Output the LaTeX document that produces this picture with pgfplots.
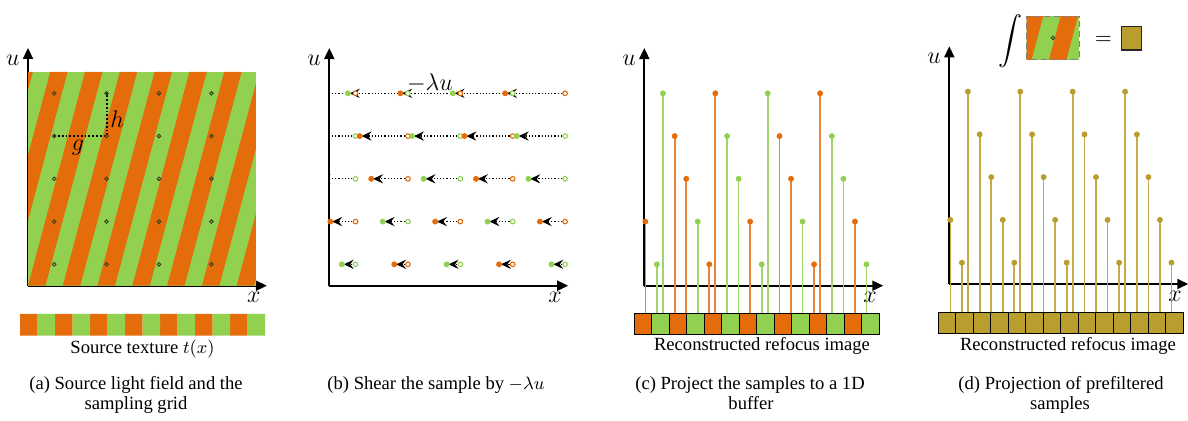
\documentclass[border=0pt]{standalone}
\usepackage{amsmath}
\usepackage{pgfplots}
\pgfplotsset{compat=1.18}
\usetikzlibrary{arrows.meta}
\usepackage{fontspec}
\setmainfont{Liberation Serif}

\definecolor{orng}{RGB}{228,108,10}
\definecolor{grn}{RGB}{146,208,80}
\definecolor{gld}{RGB}{185,157,47}
\definecolor{orngstem}{RGB}{234,132,58}
\definecolor{grnstem}{RGB}{160,215,108}
\definecolor{gldstem}{RGB}{196,170,72}
\definecolor{dotdark}{RGB}{55,65,35}

\newcommand{\stripes}{%
 \addplot[fill=grn, draw=none] coordinates {(0,0) (4.35,0) (4.35,5) (0,5)} --cycle;
 \addplot[fill=orng, draw=none] coordinates {(-1.328,0) (-0.996,0) (0.092,5) (-0.240,5)} --cycle;
 \addplot[fill=orng, draw=none] coordinates {(-0.664,0) (-0.332,0) (0.756,5) (0.424,5)} --cycle;
 \addplot[fill=orng, draw=none] coordinates {(0,0) (0.332,0) (1.420,5) (1.088,5)} --cycle;
 \addplot[fill=orng, draw=none] coordinates {(0.664,0) (0.996,0) (2.084,5) (1.752,5)} --cycle;
 \addplot[fill=orng, draw=none] coordinates {(1.328,0) (1.660,0) (2.748,5) (2.416,5)} --cycle;
 \addplot[fill=orng, draw=none] coordinates {(1.992,0) (2.324,0) (3.412,5) (3.080,5)} --cycle;
 \addplot[fill=orng, draw=none] coordinates {(2.656,0) (2.988,0) (4.076,5) (3.744,5)} --cycle;
 \addplot[fill=orng, draw=none] coordinates {(3.320,0) (3.652,0) (4.740,5) (4.408,5)} --cycle;
 \addplot[fill=orng, draw=none] coordinates {(3.984,0) (4.316,0) (5.404,5) (5.072,5)} --cycle;
}

\pgfplotsset{
 panel/.style={anchor=south west, x=26.2pt, y=21.375pt, xmin=0, ymin=0, xmax=4.56, ymax=5.56,
   axis lines=left, enlargelimits=false, xtick=\empty, ytick=\empty,
   axis line style={line width=0.9pt, -{Triangle[length=5.5pt,width=5pt]}}, clip mode=individual},
 strip/.style={anchor=south west, x=8.75pt, y=10.5pt, xmin=0, xmax=14, ymin=0, ymax=1, hide axis, clip=false},
 fdot/.style={only marks, mark=*, mark size=1.25pt},
 stem/.style={ycomb, line width=0.85pt},
}
\tikzset{lab/.style={font=\fontsize{11.5}{13}\selectfont}}

\begin{document}
\begin{tikzpicture}
\useasboundingbox (0,0) rectangle (594pt,-210.5pt);
\fontsize{9.3}{10.5}\selectfont

% ---------------- (a)
\begin{axis}[panel, at={(14pt,-142.85pt)}, xmax=4.35, ymax=5,
  x axis line style={shorten >=-5.5pt}, y axis line style={shorten >=-12pt}]
 \stripes
 \addplot[densely dotted, line width=0.9pt, black] coordinates {(0.5,3.5) (1.5,3.5) (1.5,4.5)};
 \addplot[only marks, mark=o, mark size=0.9pt, mark options={line width=0.45pt}, dotdark] coordinates {
  (0.5,0.5) (1.5,0.5) (2.5,0.5) (3.5,0.5)
  (0.5,1.5) (1.5,1.5) (2.5,1.5) (3.5,1.5)
  (0.5,2.5) (1.5,2.5) (2.5,2.5) (3.5,2.5)
  (0.5,3.5) (1.5,3.5) (2.5,3.5) (3.5,3.5)
  (0.5,4.5) (1.5,4.5) (2.5,4.5) (3.5,4.5)};
 \node[lab] at (axis cs:-0.29,5.28) {$u$};
 \node[lab] at (axis cs:4.31,-0.28) {$x$};
 \node[lab] at (axis cs:1.70,3.89) {$h$};
 \node[lab] at (axis cs:0.954,3.24) {$g$};
\end{axis}
\begin{axis}[strip, at={(10pt,-167.85pt)}, y=10.85pt]
 \addplot[ybar, bar width=1, bar shift=0pt, fill=orng, draw=none] coordinates {(0.5,1) (2.5,1) (4.5,1) (6.5,1) (8.5,1) (10.5,1) (12.5,1)};
 \addplot[ybar, bar width=1, bar shift=0pt, fill=grn, draw=none] coordinates {(1.5,1) (3.5,1) (5.5,1) (7.5,1) (9.5,1) (11.5,1) (13.5,1)};
\end{axis}
\node[anchor=base] at (71.25pt,-176.6pt) {Source texture $t(x)$};
\node[anchor=base] at (68pt,-195pt) {(a) Source light field and the};
\node[anchor=base] at (68pt,-205pt) {sampling grid};

% ---------------- (b)
\begin{axis}[panel, at={(164.65pt,-142.85pt)}]
 \addplot[quiver={u=\thisrow{du},v=\thisrow{dv}}, densely dotted, line width=0.6pt, black,
   -{Stealth[length=5pt,width=4.6pt,inset=1.8pt]}] table {
 x y du dv
 0.5 0.5 -0.225 0
 1.5 0.5 -0.225 0
 2.5 0.5 -0.225 0
 3.5 0.5 -0.225 0
 4.5 0.5 -0.225 0
 0.5 1.5 -0.445 0
 1.5 1.5 -0.445 0
 2.5 1.5 -0.445 0
 3.5 1.5 -0.445 0
 4.5 1.5 -0.445 0
 0.5 2.5 -0.665 0
 1.5 2.5 -0.665 0
 2.5 2.5 -0.665 0
 3.5 2.5 -0.665 0
 4.5 2.5 -0.665 0
 0.5 3.5 -0.885 0
 1.5 3.5 -0.885 0
 2.5 3.5 -0.885 0
 3.5 3.5 -0.885 0
 4.5 3.5 -0.885 0
 0.5 4.5 -1.110 0
 1.5 4.5 -1.110 0
 2.5 4.5 -1.110 0
 3.5 4.5 -1.110 0
 4.5 4.5 -1.110 0
 };
 % open circles (original positions)
 \addplot[only marks, mark=*, mark size=1.15pt, mark options={fill=white, draw=grn, line width=0.55pt}] coordinates {
  (0.5,0.5) (2.5,0.5) (4.5,0.5) (1.5,1.5) (3.5,1.5) (0.5,2.5) (2.5,2.5) (4.5,2.5)
  (0.5,3.5) (2.5,3.5) (4.5,3.5) (1.5,4.5) (3.5,4.5)};
 \addplot[only marks, mark=*, mark size=1.15pt, mark options={fill=white, draw=orng, line width=0.55pt}] coordinates {
  (1.5,0.5) (3.5,0.5) (0.5,1.5) (2.5,1.5) (4.5,1.5) (1.5,2.5) (3.5,2.5)
  (1.5,3.5) (3.5,3.5) (0.5,4.5) (2.5,4.5) (4.5,4.5)};
 % sheared samples
 \addplot[fdot, grn] coordinates {(0.24,0.5) (2.24,0.5) (4.24,0.5) (1.02,1.5) (3.02,1.5) (1.80,2.5) (3.80,2.5) (1.58,3.5) (3.58,3.5) (0.355,4.5) (2.355,4.5)};
 \addplot[fdot, orng] coordinates {(1.24,0.5) (3.24,0.5) (0.02,1.5) (2.02,1.5) (4.02,1.5) (0.80,2.5) (2.80,2.5) (0.58,3.5) (2.58,3.5) (1.355,4.5) (3.355,4.5)};
 \node[lab] at (axis cs:-0.29,5.28) {$u$};
 \node[lab] at (axis cs:4.31,-0.28) {$x$};
 \node[lab] at (axis cs:1.92,4.73) {$-\lambda u$};
\end{axis}
\node[anchor=base] at (218pt,-195pt) {(b) Shear the sample by $-\lambda u$};

% ---------------- (c)
\begin{axis}[panel, at={(322.15pt,-142.85pt)}, clip=false]
 \addplot[stem, orngstem] coordinates {(0.02,1.5) (0.58,3.5) (0.80,2.5) (1.24,0.5) (1.355,4.5) (2.02,1.5) (2.58,3.5) (2.80,2.5) (3.24,0.5) (3.355,4.5) (4.02,1.5)};
 \addplot[stem, orngstem] coordinates {(0.02,-0.662) (0.58,-0.662) (0.80,-0.662) (1.24,-0.662) (1.355,-0.662) (2.02,-0.662) (2.58,-0.662) (2.80,-0.662) (3.24,-0.662) (3.355,-0.662) (4.02,-0.662)};
 \addplot[stem, grnstem] coordinates {(0.24,0.5) (0.355,4.5) (1.02,1.5) (1.58,3.5) (1.80,2.5) (2.24,0.5) (2.355,4.5) (3.02,1.5) (3.58,3.5) (3.80,2.5) (4.24,0.5)};
 \addplot[stem, grnstem] coordinates {(0.24,-0.662) (0.355,-0.662) (1.02,-0.662) (1.58,-0.662) (1.80,-0.662) (2.24,-0.662) (2.355,-0.662) (3.02,-0.662) (3.58,-0.662) (3.80,-0.662) (4.24,-0.662)};
 \addplot[fdot, orng] coordinates {(0.02,1.5) (0.58,3.5) (0.80,2.5) (1.24,0.5) (1.355,4.5) (2.02,1.5) (2.58,3.5) (2.80,2.5) (3.24,0.5) (3.355,4.5) (4.02,1.5)};
 \addplot[fdot, grn] coordinates {(0.24,0.5) (0.355,4.5) (1.02,1.5) (1.58,3.5) (1.80,2.5) (2.24,0.5) (2.355,4.5) (3.02,1.5) (3.58,3.5) (3.80,2.5) (4.24,0.5)};
 \node[lab] at (axis cs:-0.29,5.28) {$u$};
 \node[lab] at (axis cs:4.31,-0.28) {$x$};
\end{axis}
\begin{axis}[strip, at={(317.15pt,-167.5pt)}]
 \addplot[ybar, bar width=1, bar shift=0pt, fill=orng, draw=black, line width=0.5pt] coordinates {(0.5,1) (2.5,1) (4.5,1) (6.5,1) (8.5,1) (10.5,1) (12.5,1)};
 \addplot[ybar, bar width=1, bar shift=0pt, fill=grn, draw=black, line width=0.5pt] coordinates {(1.5,1) (3.5,1) (5.5,1) (7.5,1) (9.5,1) (11.5,1) (13.5,1)};
\end{axis}
\node[anchor=base] at (381pt,-175.5pt) {Reconstructed refocus image};
\node[anchor=base] at (375pt,-195pt) {(c) Project the samples to a 1D};
\node[anchor=base] at (375.5pt,-205pt) {buffer};

% ---------------- (d)
\begin{axis}[panel, at={(474.65pt,-142pt)}, clip=false]
 \addplot[stem, gldstem] coordinates {(0.02,1.5) (0.24,0.5) (0.355,4.5) (0.58,3.5) (0.80,2.5) (1.02,1.5) (1.24,0.5) (1.355,4.5) (1.58,3.5) (1.80,2.5) (2.02,1.5) (2.24,0.5) (2.355,4.5) (2.58,3.5) (2.80,2.5) (3.02,1.5) (3.24,0.5) (3.355,4.5) (3.58,3.5) (3.80,2.5) (4.02,1.5) (4.24,0.5)};
 \addplot[stem, gldstem] coordinates {(0.02,-0.662) (0.24,-0.662) (0.355,-0.662) (0.58,-0.662) (0.80,-0.662) (1.02,-0.662) (1.24,-0.662) (1.355,-0.662) (1.58,-0.662) (1.80,-0.662) (2.02,-0.662) (2.24,-0.662) (2.355,-0.662) (2.58,-0.662) (2.80,-0.662) (3.02,-0.662) (3.24,-0.662) (3.355,-0.662) (3.58,-0.662) (3.80,-0.662) (4.02,-0.662) (4.24,-0.662)};
 \addplot[fdot, gld] coordinates {(0.02,1.5) (0.24,0.5) (0.355,4.5) (0.58,3.5) (0.80,2.5) (1.02,1.5) (1.24,0.5) (1.355,4.5) (1.58,3.5) (1.80,2.5) (2.02,1.5) (2.24,0.5) (2.355,4.5) (2.58,3.5) (2.80,2.5) (3.02,1.5) (3.24,0.5) (3.355,4.5) (3.58,3.5) (3.80,2.5) (4.02,1.5) (4.24,0.5)};
 \node[lab] at (axis cs:-0.29,5.28) {$u$};
 \node[lab] at (axis cs:4.31,-0.28) {$x$};
\end{axis}
\begin{axis}[strip, at={(469.15pt,-166.65pt)}]
 \addplot[ybar, bar width=1, bar shift=0pt, fill=gld, draw=black, line width=0.5pt] coordinates {(0.5,1) (1.5,1) (2.5,1) (3.5,1) (4.5,1) (5.5,1) (6.5,1) (7.5,1) (8.5,1) (9.5,1) (10.5,1) (11.5,1) (12.5,1) (13.5,1)};
\end{axis}
\node[anchor=base] at (534pt,-175.5pt) {Reconstructed refocus image};
\node[anchor=base] at (530.5pt,-195pt) {(d) Projection of prefiltered};
\node[anchor=base] at (530pt,-205pt) {samples};

% inset: integral of one cell = gold value
\begin{axis}[anchor=south west, at={(513.35pt,-29.65pt)}, x=26.2pt, y=21.375pt, xmin=2, xmax=3, ymin=2, ymax=3,
  xtick=\empty, ytick=\empty, axis on top, axis line style={densely dashed, gray, line width=0.5pt}, clip mode=individual]
 \stripes
 \addplot[only marks, mark=o, mark size=0.9pt, mark options={line width=0.45pt}, dotdark] coordinates {(2.5,2.5)};
\end{axis}
\node[inner sep=0pt] at (505pt,-20.8pt) {\fontsize{12.6}{15}\selectfont$\displaystyle\int$};
\node[inner sep=0pt] at (551.65pt,-20pt) {\fontsize{11}{13}\selectfont$=$};
\draw[fill=gld, draw=black!85, line width=0.6pt] (560.85pt,-13.35pt) rectangle (570.85pt,-25pt);
\end{tikzpicture}
\end{document}
